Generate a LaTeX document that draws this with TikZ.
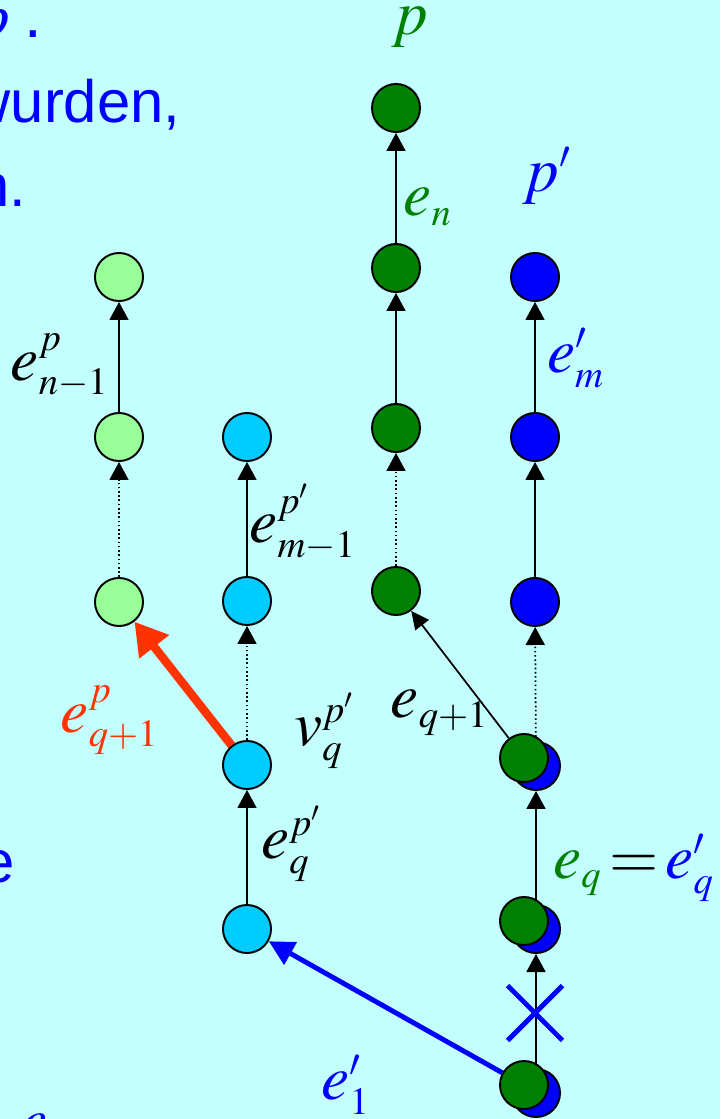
\documentclass[tikz,border=0pt]{standalone}
\usepackage{mathptmx}
\usepackage{fontspec}
\setmainfont{Liberation Sans}
\usetikzlibrary{arrows.meta,shapes.misc}
\DeclareMathSizes{18}{18}{11}{8}

\definecolor{slidebg}{RGB}{196,255,255}
\definecolor{pathgreen}{RGB}{0,128,0}
\definecolor{lightgreen}{RGB}{153,255,153}
\definecolor{skyblue}{RGB}{0,204,255}
\definecolor{pathblue}{RGB}{0,0,255}
\definecolor{redorange}{RGB}{255,51,0}

\pgfdeclarelayer{back}
\pgfdeclarelayer{edges}
\pgfsetlayers{back,edges,main}

\tikzset{
  vert/.style={circle, draw=black, line width=0.55pt, minimum size=0.48cm, inner sep=0pt},
  hop/.style={line width=0.5pt, -{Triangle[width=0.19cm,length=0.18cm]}},
  hopdots/.style={hop, dash pattern=on 0.45pt off 0.75pt},
  lbl/.style={font=\fontsize{18}{22}\selectfont, inner sep=0pt},
  slide/.style={font=\fontsize{17}{20}\selectfont, text=pathblue, inner sep=0pt}
}

\begin{document}
\begin{tikzpicture}[x=0.01cm, y=-0.01cm]

% Background
\begin{pgfonlayer}{back}
\fill[slidebg] (0,0) rectangle (720,1119);
\end{pgfonlayer}
\useasboundingbox (0,0) rectangle (720,1119);
\clip (0,0) rectangle (720,1119);

% === SLIDE TEXT (cut off at the left) ===
\node[lbl, text=pathblue, anchor=base east] (t1) at (43,38) {$p$\hspace{4pt}.};
\node[slide, anchor=base east] (t2) at (181,123) {wurden,};
\node[slide, anchor=base east] (t3) at (27,207) {n.};
\node[slide, anchor=base east] (t4) at (15,882) {e};
\node[lbl, text=pathblue, anchor=north] (t5) at (34,1113) {$e$};

% === PATH p (dark green) ===
\foreach \n/\y in {1/591,2/428,3/268,4/108}
  \node[vert, fill=pathgreen] (d\n) at (396,\y) {};

% === PATH p' (blue), upper part ===
\foreach \n/\y in {4/602,5/437,6/277}
  \node[vert, fill=pathblue] (b\n) at (535,\y) {};

% === COMMON PART: blue below, green on top ===
\foreach \n/\y in {1/1093,2/929,3/766} {
  \node[vert, fill=pathblue] (b\n) at (536,\y) {};
  \node[vert, fill=pathgreen] (g\n) at (524,\y-8) {};
}

% === LEFT PATHS ===
\foreach \n/\y in {1/602,2/437,3/277}
  \node[vert, fill=lightgreen] (l\n) at (119,\y) {};
\foreach \n/\y in {1/929,2/765,3/601,4/437}
  \node[vert, fill=skyblue] (c\n) at (247,\y) {};

% === EDGES ===
\begin{pgfonlayer}{edges}
\draw[hopdots] (l1) -- (l2);
\draw[hop] (l2) -- (l3);
\draw[hop] (c1) -- (c2);
\draw[hopdots] (c2) -- (c3);
\draw[hop] (c3) -- (c4);
\draw[hopdots] (d1) -- (d2);
\draw[hop] (d2) -- (d3);
\draw[hop] (d3) -- (d4);
\draw[hop] (b1) -- (b2);
\draw[hop] (b2) -- (b3);
\draw[hopdots] (b3) -- (b4);
\draw[hop] (b4) -- (b5);
\draw[hop] (b5) -- (b6);
\draw[hop, -{Triangle[width=0.17cm,length=0.18cm]}] (g3) -- (d1);
\draw[line width=2.4pt, redorange, -{Triangle[width=0.36cm,length=0.32cm]}] (c2) -- (l1);
\draw[line width=1.4pt, pathblue, -{Triangle[width=0.25cm,length=0.25cm]}] (g1) -- (c1);
\end{pgfonlayer}

% cut edge
\node[cross out, draw=pathblue, line width=1.4pt, minimum size=0.5cm, inner sep=0pt] (cut) at (535,1013) {};

% === LABELS ===
\node[lbl, text=pathgreen] (pp) at (410,27) {$p$};
\node[lbl, text=pathblue] (pq) at (547,176) {$p'$};
\node[lbl, text=pathgreen] (en) at (428,207) {$e_n$};
\node[lbl, text=pathblue] (em) at (576,358) {$e'_m$};
\node[lbl] (enp) at (60,366) {$e^p_{n-1}$};
\node[lbl] (emp) at (303,522) {$e^{p'}_{m-1}$};
\node[lbl] (vq) at (325,731) {$v^{p'}_q$};
\node[lbl] (eq1) at (440,713) {$e_{q+1}$};
\node[lbl, text=redorange] (eqp) at (110,720) {$e^p_{q+1}$};
\node[lbl] (eqq) at (292,844) {$e^{p'}_q$};
\node[lbl] (eqe) at (634,868) {${\color{pathgreen}e_q}\,{=}\,{\color{pathblue}e'_q}$};
\node[lbl, text=pathblue] (e1) at (346,1085) {$e'_1$};

\end{tikzpicture}
\end{document}
